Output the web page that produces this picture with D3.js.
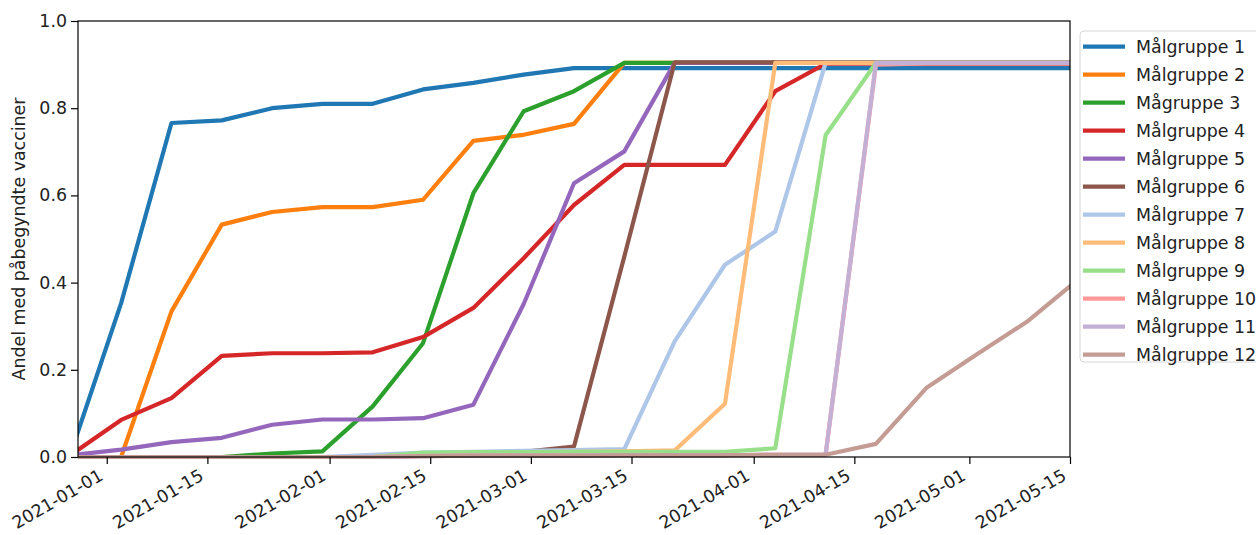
<!DOCTYPE html>
<html>
<head>
<meta charset="utf-8">
<script src="https://cdn.jsdelivr.net/npm/d3@7"></script>
<style>
  body { margin: 0; background: #fff; }
  svg { display: block; font-family: "DejaVu Sans", sans-serif; }
</style>
</head>
<body>
<div id="chart"></div>
<script>

// weekly points (sundays)
var weeks = ["2020-12-27","2021-01-03","2021-01-10","2021-01-17","2021-01-24","2021-01-31","2021-02-07",
             "2021-02-14","2021-02-21","2021-02-28","2021-03-07","2021-03-14","2021-03-21","2021-03-28",
             "2021-04-04","2021-04-11","2021-04-18","2021-04-25","2021-05-02","2021-05-09","2021-05-16"];

var names = ["Målgruppe 1","Målgruppe 2","Mågruppe 3","Målgruppe 4","Målgruppe 5","Målgruppe 6",
             "Målgruppe 7","Målgruppe 8","Målgruppe 9","Målgruppe 10","Målgruppe 11","Målgruppe 12"];

var colors = ["#1f77b4","#ff7f0e","#2ca02c","#d62728","#9467bd","#8c564b",
              "#aec7e8","#ffbb78","#98df8a","#ff9896","#c5b0d5","#c49c94"];

var g1  = [0.009,0.353,0.766,0.772,0.800,0.810,0.810,0.843,0.858,0.877,0.892,0.892,0.892,0.892,0.892,0.892,0.892,0.892,0.892,0.892,0.892];
var g2  = [0,0,0.334,0.533,0.562,0.573,0.573,0.590,0.725,0.739,0.764,0.904,0.904,0.904,0.904,0.904,0.904,0.904,0.904,0.904,0.904];
var g3  = [0,0,0,0,0.008,0.013,0.116,0.261,0.605,0.793,0.839,0.904,0.904,0.904,0.904,0.904,0.904,0.904,0.904,0.904,0.904];
var g4  = [0.005,0.085,0.135,0.232,0.238,0.238,0.240,0.275,0.342,0.456,0.578,0.670,0.670,0.670,0.839,0.902,0.902,0.902,0.902,0.902,0.902];
var g5  = [0.004,0.017,0.034,0.044,0.074,0.086,0.086,0.089,0.120,0.351,0.628,0.701,0.904,0.904,0.904,0.904,0.904,0.904,0.904,0.904,0.904];
var g6  = [0,0,0,0,0,0,0,0.005,0.008,0.012,0.024,0.460,0.905,0.905,0.905,0.905,0.905,0.905,0.905,0.905,0.905];
var g7  = [0,0,0,0,0,0,0.005,0.010,0.012,0.014,0.016,0.018,0.265,0.441,0.517,0.904,0.904,0.904,0.904,0.904,0.904];
var g8  = [0,0,0,0,0,0,0,0.008,0.010,0.011,0.012,0.013,0.015,0.122,0.904,0.904,0.904,0.904,0.904,0.904,0.904];
var g9  = [0,0,0,0,0,0,0,0.010,0.011,0.011,0.012,0.012,0.012,0.012,0.020,0.738,0.904,0.904,0.904,0.904,0.904];
var g10 = [0,0,0,0,0,0,0,0.002,0.003,0.003,0.003,0.004,0.004,0.004,0.005,0.005,0.900,0.903,0.903,0.903,0.903];
var g11 = [0,0,0,0,0,0,0,0.002,0.003,0.003,0.003,0.004,0.004,0.004,0.005,0.005,0.904,0.904,0.904,0.904,0.904];
var g12 = [0,0,0,0,0,0,0,0.002,0.003,0.003,0.003,0.004,0.004,0.004,0.005,0.005,0.030,0.158,0.235,0.310,0.405];

var series = [g1,g2,g3,g4,g5,g6,g7,g8,g9,g10,g11,g12];

var yTicks = [0, 0.2, 0.4, 0.6, 0.8, 1.0];
var xTicks = ["2021-01-01","2021-01-15","2021-02-01","2021-02-15","2021-03-01","2021-03-15",
              "2021-04-01","2021-04-15","2021-05-01","2021-05-15"];

var parse = d3.timeParse("%Y-%m-%d");
var fmt = d3.timeFormat("%Y-%m-%d");

visualizeChart();

function visualizeChart() {
  const margin = { top: 21, left: 78 };
  const width = 992;
  const height = 436;
  const fs = 17.4;

  var svg = d3.select("#chart")
    .append("svg")
    .attr("width", 1256)
    .attr("height", 535);

  var x = d3.scaleTime()
    .domain([parse("2020-12-28"), parse("2021-05-15")])
    .range([margin.left, margin.left + width]);

  var y = d3.scaleLinear()
    .domain([0, 1])
    .range([margin.top + height, margin.top]);

  svg.append("clipPath").attr("id", "clip")
    .append("rect")
    .attr("x", margin.left).attr("y", margin.top - 5)
    .attr("width", width).attr("height", height + 10);

  var line = d3.line()
    .x(function(d, i) { return x(parse(weeks[i])); })
    .y(function(d) { return y(d); });

  var lines = svg.append("g").attr("clip-path", "url(#clip)");
  series.forEach(function(s, k) {
    lines.append("path")
      .attr("d", line(s))
      .attr("fill", "none")
      .attr("stroke", colors[k])
      .attr("stroke-width", 4.2)
      .attr("stroke-linejoin", "round");
  });

  // x axis
  var xaxis = svg.append("g")
    .attr("transform", "translate(0," + (margin.top + height) + ")")
    .call(d3.axisBottom(x)
      .tickValues(xTicks.map(parse))
      .tickFormat(fmt)
      .tickSizeInner(7).tickSizeOuter(0));
  xaxis.select(".domain").remove();
  xaxis.selectAll("line").attr("stroke", "#000").attr("stroke-width", 1.2);
  xaxis.selectAll("text")
    .attr("fill", "#222")
    .style("font-size", fs + "px")
    .style("font-family", "DejaVu Sans")
    .style("text-anchor", "end")
    .attr("y", 0).attr("dy", 0)
    .attr("transform", "translate(-3,22) rotate(-30)");

  // y axis
  var yaxis = svg.append("g")
    .attr("transform", "translate(" + margin.left + ",0)")
    .call(d3.axisLeft(y)
      .tickValues(yTicks)
      .tickFormat(d3.format(".1f"))
      .tickSizeInner(7).tickSizeOuter(0).tickPadding(4));
  yaxis.select(".domain").remove();
  yaxis.selectAll("line").attr("stroke", "#000").attr("stroke-width", 1.2);
  yaxis.selectAll("text")
    .attr("fill", "#222")
    .style("font-size", fs + "px")
    .style("font-family", "DejaVu Sans");

  // frame
  svg.append("rect")
    .attr("x", margin.left).attr("y", margin.top)
    .attr("width", width).attr("height", height)
    .attr("fill", "none").attr("stroke", "#000").attr("stroke-width", 1.2);

  svg.append("text")
    .attr("transform", "translate(25," + (margin.top + height / 2) + ") rotate(-90)")
    .attr("text-anchor", "middle")
    .attr("fill", "#222")
    .style("font-size", fs + "px")
    .text("Andel med påbegyndte vacciner");

  // legend
  var leg = svg.append("g");
  leg.append("rect")
    .attr("x", 1080).attr("y", 31)
    .attr("width", 220).attr("height", 331)
    .attr("rx", 4)
    .attr("fill", "#fff").attr("fill-opacity", 0.8)
    .attr("stroke", "#d6d6d6");
  names.forEach(function(n, k) {
    var yy = 46.7 + k * 28;
    leg.append("line")
      .attr("x1", 1083).attr("x2", 1125)
      .attr("y1", yy).attr("y2", yy)
      .attr("stroke", colors[k]).attr("stroke-width", 4.2);
    leg.append("text")
      .attr("x", 1136).attr("y", yy).attr("dy", "0.36em")
      .attr("fill", "#222")
      .style("font-size", fs + "px")
      .text(n);
  });
}
</script>
</body>
</html>
